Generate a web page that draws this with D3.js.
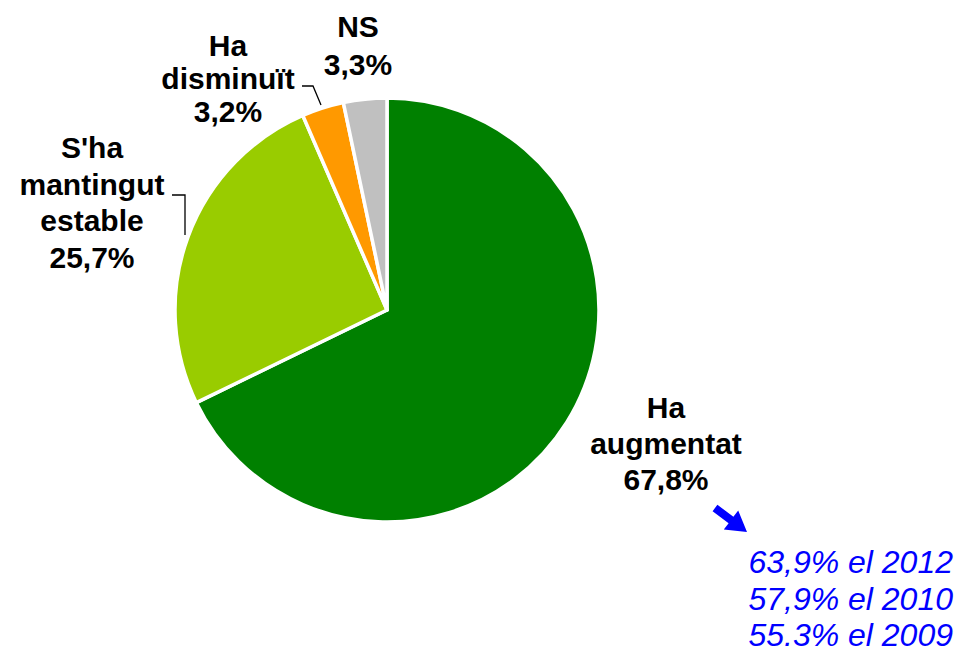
<!DOCTYPE html>
<html>
<head>
<meta charset="utf-8">
<script src="https://cdn.jsdelivr.net/npm/d3@7"></script>
<style>
  body { margin: 0; background: #fff; }
  svg text { font-family: "Liberation Sans", Arial, sans-serif; }
</style>
</head>
<body>
<div id="chart"></div>
<script>
// data
const categories = ['Ha augmentat', "S'ha mantingut estable", 'Ha disminuït', 'NS'];
const values = [67.8, 25.7, 3.2, 3.3];
const valueLabels = ['67,8%', '25,7%', '3,2%', '3,3%'];
const colors = ['#008000', '#99cc00', '#ff9900', '#c0c0c0'];
const previousYears = ['63,9% el 2012', '57,9% el 2010', '55.3% el 2009'];

const width = 959, height = 650;
const cx = 387, cy = 310, radius = 212;

const svg = d3.select('#chart').append('svg')
  .attr('width', width)
  .attr('height', height);

const pie = d3.pie().sort(null).value((d) => d);
const arc = d3.arc().innerRadius(0).outerRadius(radius);

const g = svg.append('g').attr('transform', `translate(${cx},${cy})`);

g.selectAll('path')
  .data(pie(values))
  .enter()
  .append('path')
  .attr('d', arc)
  .attr('fill', (d, i) => colors[i])
  .attr('stroke', '#fff')
  .attr('stroke-width', 3.5)
  .attr('stroke-linejoin', 'round');

// label blocks: lines of text, anchor and line spacing
const labelLines = [
  ['Ha', 'augmentat', valueLabels[0]],
  ["S'ha", 'mantingut', 'estable', valueLabels[1]],
  ['Ha', 'disminuït', valueLabels[2]],
  ['NS', valueLabels[3]]
];
const labelPos = [
  { x: 666, y: 418, dy: 36 },
  { x: 92, y: 158, dy: 36.5 },
  { x: 228, y: 56, dy: 33 },
  { x: 358, y: 37, dy: 38 }
];

labelLines.forEach((lines, i) => {
  const p = labelPos[i];
  const t = svg.append('text')
    .attr('x', p.x)
    .attr('y', p.y)
    .attr('text-anchor', 'middle')
    .attr('font-size', 30)
    .attr('font-weight', 'bold')
    .attr('fill', '#000');
  lines.forEach((s, j) => {
    t.append('tspan')
      .attr('x', p.x)
      .attr('dy', j === 0 ? 0 : p.dy)
      .text(s);
  });
});

// leader lines
svg.append('polyline')
  .attr('points', '172,195 185,195 185,235')
  .attr('fill', 'none')
  .attr('stroke', '#000')
  .attr('stroke-width', 1.3);
svg.append('polyline')
  .attr('points', '302,86 313,86 321,105')
  .attr('fill', 'none')
  .attr('stroke', '#000')
  .attr('stroke-width', 1.3);

// blue arrow (tail -> tip)
const tail = [715, 508], tip = [747, 532];
const ang = Math.atan2(tip[1] - tail[1], tip[0] - tail[0]);
const headLen = 20, headW = 12, shaftW = 4;
const ux = Math.cos(ang), uy = Math.sin(ang), nx = -uy, ny = ux;
const bx = tip[0] - ux * headLen, by = tip[1] - uy * headLen;
const arrowPts = [
  [tail[0] + nx * shaftW, tail[1] + ny * shaftW],
  [bx + nx * shaftW, by + ny * shaftW],
  [bx + nx * headW, by + ny * headW],
  tip,
  [bx - nx * headW, by - ny * headW],
  [bx - nx * shaftW, by - ny * shaftW],
  [tail[0] - nx * shaftW, tail[1] - ny * shaftW]
];
svg.append('path')
  .attr('d', d3.line()(arrowPts) + 'Z')
  .attr('fill', '#0000ff');

// earlier years
const prev = svg.append('text')
  .attr('text-anchor', 'end')
  .attr('font-size', 32)
  .attr('font-style', 'italic')
  .attr('fill', '#0000ff');
previousYears.forEach((s, i) => {
  prev.append('tspan')
    .attr('x', 953)
    .attr('y', 573 + i * 36.5)
    .text(s);
});
</script>
</body>
</html>
